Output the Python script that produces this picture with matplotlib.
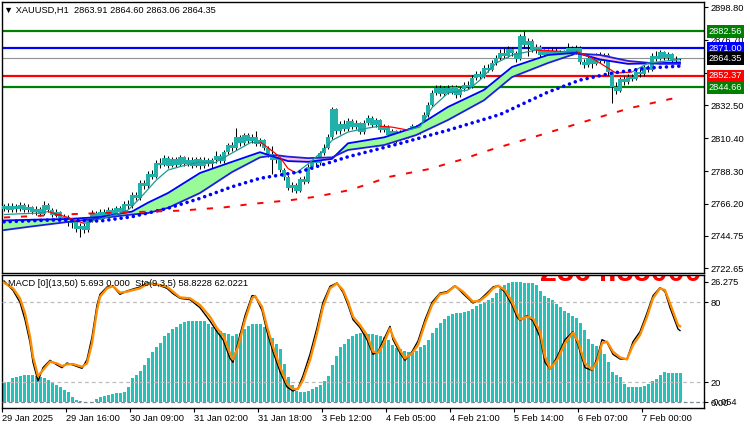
import numpy as np
import matplotlib
matplotlib.use('Agg')
import matplotlib.pyplot as plt
from matplotlib.collections import LineCollection

plt.rcParams['font.family'] = ['Liberation Sans', 'DejaVu Sans']

# ---------------- data ----------------
open_first = 2763.0
closes = [
2764.5, 2762.0, 2765.0, 2762.5, 2765.5, 2762.0, 2764.0, 2761.0, 2763.0, 2759.5,
2765.5, 2762.0, 2759.0, 2760.5, 2756.5,
2757.5, 2753.0, 2755.0, 2749.0, 2751.5, 2748.5, 2755.0,
2760.0, 2757.0, 2761.0, 2758.0, 2762.0, 2759.5, 2763.5, 2761.0,
2766.0, 2764.5, 2772.0, 2770.0, 2780.0, 2778.0, 2786.0, 2784.5, 2794.0, 2792.5,
2797.0, 2792.0, 2796.5, 2792.5, 2797.5, 2793.0, 2796.0, 2792.0, 2796.5, 2791.5, 2796.0, 2793.0, 2795.5,
2798.5, 2795.0, 2801.0, 2806.0, 2803.5, 2811.0, 2807.0, 2812.5,
2808.5, 2811.0, 2806.5, 2809.0, 2804.0,
2799.5, 2796.0, 2798.0, 2789.0, 2784.0, 2777.0, 2779.0, 2775.0,
2783.0, 2781.0, 2791.0, 2795.5, 2793.5, 2800.5, 2804.0, 2811.0,
2830.0, 2815.0,
2820.0, 2816.5, 2822.0, 2818.0, 2820.5, 2814.5, 2821.0, 2824.0, 2819.5, 2822.5,
2816.0, 2818.0, 2812.5, 2815.0, 2810.5, 2814.5, 2811.5, 2815.5, 2818.5, 2814.5, 2819.0,
2826.0, 2833.0,
2841.0, 2844.5, 2840.5, 2844.0, 2841.0, 2845.0, 2839.5, 2843.5,
2846.5, 2845.0, 2851.0, 2853.5, 2852.0, 2858.0, 2856.5, 2861.0, 2864.5, 2868.0,
2866.0, 2870.5, 2867.5, 2864.0,
2879.0, 2873.0,
2876.0, 2870.0, 2872.0,
2866.5, 2869.0, 2865.5, 2869.5, 2866.0, 2868.5,
2866.5, 2871.0, 2868.0, 2871.5,
2862.0, 2860.0,
2864.5, 2860.5, 2866.0, 2862.5, 2866.5,
2855.0, 2845.0, 2842.5,
2850.0, 2848.0, 2852.0,
2850.5, 2855.0, 2853.5, 2858.5, 2856.5,
2866.0, 2864.0, 2868.5,
2864.5, 2867.0, 2863.0, 2863.91, 2864.35]
highs = [
2766.0, 2766.5, 2767.0, 2766.0, 2767.5, 2766.5, 2766.0, 2765.0, 2764.5, 2764.0,
2768.0, 2767.0, 2763.5, 2762.5, 2761.5,
2759.5, 2758.5, 2756.5, 2756.0, 2753.0, 2753.0, 2756.5,
2762.0, 2761.5, 2762.5, 2762.5, 2764.0, 2763.5, 2765.0, 2765.0,
2768.0, 2768.5, 2774.0, 2774.5, 2782.0, 2782.5, 2788.0, 2789.0, 2796.0, 2797.0,
2799.0, 2798.5, 2798.0, 2798.0, 2799.0, 2798.5, 2797.5, 2797.5, 2798.0, 2797.5, 2797.5, 2797.0, 2797.0,
2801.5, 2800.0, 2802.5, 2807.5, 2808.0, 2817.0, 2812.5, 2814.0,
2814.0, 2813.0, 2815.0, 2810.5, 2810.0,
2805.5, 2805.0, 2800.0, 2799.0, 2790.5, 2785.5, 2781.0, 2780.5,
2784.5, 2785.0, 2793.0, 2797.5, 2797.0, 2802.0, 2806.5, 2813.0,
2831.5, 2831.0,
2822.0, 2822.5, 2824.0, 2823.5, 2822.5, 2821.5, 2822.5, 2826.0, 2825.5, 2824.0,
2823.5, 2820.0, 2819.0, 2816.5, 2816.0, 2816.0, 2815.5, 2817.0, 2820.0, 2819.5, 2820.5,
2828.0, 2835.0,
2843.0, 2846.5, 2846.0, 2845.5, 2846.5, 2846.5, 2846.0, 2845.0,
2848.0, 2849.0, 2853.0, 2855.5, 2856.0, 2860.0, 2860.5, 2863.0, 2866.5, 2870.5,
2871.0, 2872.5, 2872.0, 2869.0,
2880.5, 2882.56,
2878.0, 2877.0, 2874.0,
2873.0, 2870.5, 2870.5, 2871.5, 2871.0, 2870.0,
2870.0, 2874.6, 2872.5, 2873.0,
2872.5, 2864.0,
2866.0, 2866.0, 2867.5, 2868.5, 2868.0,
2867.5, 2856.0, 2848.0,
2851.5, 2852.5, 2853.5,
2854.0, 2856.5, 2857.0, 2860.0, 2860.0,
2868.0, 2869.5, 2870.0,
2869.5, 2868.5, 2868.0, 2866.0, 2864.60]
lows = [
2761.5, 2761.0, 2761.0, 2761.0, 2761.5, 2760.5, 2760.5, 2759.5, 2759.0, 2758.0,
2758.5, 2760.5, 2757.5, 2757.0, 2755.0,
2754.5, 2751.5, 2750.0, 2747.0, 2743.8, 2746.5, 2747.5,
2754.0, 2755.5, 2756.0, 2756.5, 2757.0, 2758.0, 2758.5, 2759.5,
2760.0, 2763.0, 2763.5, 2768.5, 2769.0, 2776.0, 2777.0, 2783.0, 2783.5, 2790.5,
2791.5, 2790.5, 2791.0, 2791.0, 2791.5, 2791.5, 2791.5, 2790.5, 2791.0, 2790.0, 2790.5, 2791.5, 2790.5,
2794.0, 2793.5, 2794.0, 2800.0, 2802.0, 2802.5, 2805.5, 2806.0,
2807.0, 2807.0, 2805.0, 2805.0, 2802.5,
2798.0, 2786.0, 2794.0, 2787.5, 2782.0, 2775.5, 2774.0, 2773.5,
2774.0, 2779.5, 2780.0, 2789.5, 2792.0, 2792.5, 2799.0, 2803.0,
2810.0, 2813.5,
2813.5, 2815.0, 2815.5, 2816.5, 2816.5, 2813.0, 2813.5, 2819.5, 2818.0, 2818.0,
2814.5, 2814.5, 2811.0, 2810.5, 2807.0, 2809.5, 2810.0, 2810.5, 2814.0, 2813.0, 2813.5,
2818.0, 2825.0,
2832.0, 2839.5, 2839.0, 2839.0, 2840.0, 2840.0, 2837.5, 2838.5,
2842.0, 2843.5, 2844.0, 2849.5, 2850.5, 2851.0, 2855.0, 2855.5, 2859.5, 2863.0,
2864.5, 2865.0, 2866.0, 2862.0,
2863.0, 2871.0,
2866.0, 2868.5, 2868.0,
2865.0, 2864.5, 2864.0, 2864.5, 2864.5, 2864.5,
2865.0, 2865.5, 2866.5, 2867.0,
2860.5, 2857.5,
2858.5, 2858.0, 2859.5, 2861.0, 2861.0,
2853.0, 2834.0, 2840.0,
2841.5, 2846.5, 2847.0,
2849.0, 2849.5, 2852.0, 2852.5, 2855.0,
2855.5, 2862.5, 2863.0,
2863.0, 2863.0, 2861.5, 2862.0, 2863.06]

# indicator lines read at knot bars
band_x = [0, 7, 16, 24, 32, 36, 41, 49, 57, 64, 68, 71, 76, 82, 86, 95, 103, 111, 120, 127, 136, 143, 149, 156, 164, 169]
band_a = [2755, 2755.5, 2756, 2757.3, 2761, 2767, 2773.5, 2787, 2794.5, 2801, 2797.5, 2795, 2794.5, 2796.5, 2807, 2811,
          2818, 2831.5, 2843, 2858.4, 2866.5, 2868, 2863.5, 2860.5, 2861, 2861.5]
band_b = [2748.5, 2751, 2754, 2756.5, 2759, 2760, 2763.5, 2773.5, 2787.6, 2797.5, 2799, 2798, 2797, 2797.5, 2802.5, 2805.8,
          2812.5, 2822.7, 2836, 2851.6, 2861.1, 2867.5, 2866.5, 2862.5, 2860.5, 2860.5]
fast_x = [0, 4, 9, 11, 16, 20, 24, 28, 31, 34, 38, 41, 45, 49, 53, 57, 62, 64, 66, 69, 71, 73, 76, 80, 82, 86, 91, 94,
          97, 101, 104, 107, 111, 116, 119, 123, 127, 133, 139, 143, 147, 151, 153, 157, 161, 164, 169]
fast_v = [2759, 2759.5, 2760, 2761, 2757, 2753, 2756, 2759, 2762, 2770, 2782, 2789, 2792, 2794.4, 2794.4, 2800.4, 2808,
          2808, 2804, 2797.7, 2790, 2787, 2793, 2802.5, 2809, 2814.6, 2817.3, 2818.5, 2817.9, 2815.9, 2818, 2831, 2840.9,
          2842.9, 2849.6, 2861, 2866.5, 2869.8, 2869, 2869, 2864.4, 2857.7, 2854.3, 2855, 2861, 2862, 2863.4]
fast_red_spans = [(11, 20), (64, 73), (94, 101), (133, 139), (143, 157)]
dot_x = [0, 12, 24, 32, 41, 49, 57, 64, 74, 86, 99, 111, 124, 136, 144, 152, 161, 169]
dot_v = [2754.1, 2755.3, 2754.6, 2757.5, 2763.2, 2769.9, 2777.7, 2783.4, 2787.8, 2797.9, 2806.9, 2815.8, 2826.4,
         2841.5, 2849.6, 2854.3, 2857.7, 2859.0]
ma200_x = [0, 19, 44, 55, 61.5, 72, 78, 86.5, 96.5, 106, 114, 121.5, 134, 146.5, 156.5, 166.5, 169]
ma200_v = [2757.0, 2759.5, 2761.6, 2763.8, 2766.0, 2768.8, 2771.0, 2775.5, 2784.5, 2789.5, 2795.7, 2802.5, 2812.5,
           2822.7, 2830.7, 2836.8, 2838.0]

levels = [2882.56, 2871.00, 2864.35, 2852.37, 2844.66]
level_colors = ['#008000', '#0000FF', '#000000', '#FF0000', '#008000']
price_ticks = [2898.80, 2876.70, 2854.60, 2832.50, 2810.40, 2788.30, 2766.20, 2744.75, 2722.65]

macd_hist = [4.3, 4.5, 5.3, 5.6, 5.8, 5.9, 5.9, 5.9, 5.7, 5.5, 5.4, 4.9, 4.3, 3.8, 3.4, 2.8, 2.3, 1.3, 0.6, 0.3,
             0.05, 0.02, 0.05, 0.8, 1.1, 1.4, 1.6, 1.8, 2.0, 2.1, 2.3, 3.3, 5.3, 6.0, 6.9, 8.2, 9.6, 10.9, 12.0, 13.0,
             14.4, 15.2, 15.9, 16.5, 17.0, 17.5, 17.8, 17.8, 17.8, 17.8, 17.7, 17.0, 16.4, 15.9, 15.5, 15.2, 14.8,
             14.5, 14.8, 15.2, 16.0, 16.7, 17.0, 17.1, 17.0, 16.4, 15.6, 14.1, 12.8, 11.6, 8.3, 5.5, 3.8, 2.6, 2.2,
             2.2, 2.5, 2.9, 3.3, 3.9, 4.6, 5.7, 8.2, 10.2, 12.0, 12.8, 13.7, 14.4, 14.9, 15.2, 15.0, 14.9, 14.8, 14.7,
             14.5, 14.3, 13.6, 12.6, 11.9, 11.6, 11.3, 11.0, 10.8, 11.3, 12.0, 12.6, 13.5, 15.0, 16.2, 17.2, 18.2,
             18.9, 19.3, 19.5, 19.5, 19.6, 19.8, 20.3, 20.9, 21.5, 21.9, 22.3, 22.7, 23.8, 24.7, 25.5, 26.0, 26.2,
             26.2, 26.275, 25.9, 26.0, 25.9, 25.6, 24.3, 23.2, 22.7, 22.2, 21.5, 20.8, 20.0, 19.4, 18.9, 18.3, 17.2,
             15.7, 13.9, 12.8, 12.2, 11.7, 10.6, 8.8, 6.6, 6.0, 5.5, 4.1, 3.4, 3.3, 3.3, 3.3, 3.6, 4.1, 4.6, 5.1, 6.0,
             6.6, 6.5, 6.5, 6.4, 6.4]
stoch_x = [0, 2.25, 4, 5.25, 6.5, 7.25, 8.5, 9.75, 11.5, 13.25, 14.5, 15.75, 17.25, 19.5, 20.75, 22, 23.25, 24, 25.75,
           27.25, 29, 30.75, 32.25, 34, 35.75, 37.25, 39, 40.75, 42.25, 44, 46.5, 49, 51.5, 53.25, 54.75, 56.5, 57.25,
           58.5, 60.25, 62, 62.75, 64.5, 65.75, 67.25, 69, 70.75, 72.25, 73.5, 74.75, 76.5, 78.25, 79.75, 81.5, 83.25,
           84.75, 86, 87.25, 89, 90.75, 92.25, 93.5, 94.75, 96.5, 97.25, 99, 100.25, 102, 103.5, 105.25, 107, 109,
           110.75, 112.75, 114.75, 117.25, 119, 120.75, 122.25, 123.5, 125.25, 127, 128.25, 129, 130.75, 132.25, 134,
           135.25, 136.5, 138.25, 140.25, 142.25, 143.5, 145.25, 147, 148.25, 149.5, 150.75, 152.25, 154, 155.75,
           157.25, 159, 160.75, 162.25, 164, 165.25, 166.5, 168.5, 169]
stoch_d = [94.7, 90.5, 83, 71.8, 54.3, 39.2, 24.7, 29.2, 35.5, 34.2, 32.2, 33.5, 33.7, 31.7, 34.2, 49.3, 74.2, 84.2,
           90.5, 92.2, 87.2, 88, 89.2, 90.5, 93.7, 93.7, 93, 91.7, 88, 83.7, 83, 78, 69.2, 60.5, 55.5, 41.7, 37.2, 46.7,
           66.7, 83, 84.7, 76.7, 61.7, 46.7, 31.7, 19.2, 15, 15, 21.7, 36.7, 56.7, 76.7, 90.5, 94.2, 89.2, 80.5, 69.2,
           63, 55.5, 43, 42.2, 48, 60.5, 54.3, 44.2, 38, 41.7, 48, 64.2, 78, 86.2, 87.2, 92.2, 88, 80.5, 81.2, 85.5,
           90.5, 92.5, 89.2, 80.5, 71.8, 67.2, 69.2, 68, 58, 39.2, 30.5, 36.7, 49.3, 57.2, 50.5, 34.2, 29.7, 35.5,
           49.3, 50.5, 43, 38.7, 37.2, 48, 55.5, 69.2, 83, 90.5, 89.2, 79.2, 63, 62.02]
stoch_k = [96, 89, 80, 67, 50, 35, 21, 31, 36.5, 33, 31, 34.5, 33, 30.5, 37, 54, 78, 86, 91.5, 92, 86, 88.5, 90, 91.5,
           94.5, 94, 92.5, 90.5, 86.5, 83, 82, 76, 66, 58, 52, 38, 35, 50, 70, 85, 85, 74, 58, 43, 28, 16.5, 13.5,
           15.5, 25, 41, 61, 80, 92, 94.5, 87.5, 78, 67, 61, 52, 41, 43, 51, 62, 52, 42, 36.5, 43, 51, 67, 80, 87, 88,
           92.5, 86.5, 79.5, 82, 87, 91.5, 92.5, 87.5, 78, 69, 66.5, 70, 66, 54, 35, 30, 39, 52, 58, 48, 31, 29, 38,
           52, 50, 41, 37.5, 37.5, 50.5, 58, 72, 85, 91, 88, 76, 60, 58.82]

date_ticks = [0, 16, 32, 48, 64, 80, 96, 112, 128, 144, 160]
date_labels = ['29 Jan 2025', '29 Jan 16:00', '30 Jan 09:00', '31 Jan 02:00', '31 Jan 18:00', '3 Feb 12:00',
               '4 Feb 05:00', '4 Feb 21:00', '5 Feb 14:00', '6 Feb 07:00', '7 Feb 00:00']

title = '\u25BC XAUUSD,H1  2863.91 2864.60 2863.06 2864.35'
sub_title = 'MACD [0](13,50) 5.693 0.000  Sto(9,3,5) 58.8228 62.0221'
big_label = '2864.35000'

# ---------------- figure ----------------
W, H = 750, 430
FS = 6.7
fig = plt.figure(figsize=(W / 100, H / 100), dpi=100)
ax = fig.add_axes([2 / W, 1 - 273 / H, 702 / W, 271 / H])
axm = fig.add_axes([2 / W, 1 - 408 / H, 702 / W, 133 / H])

n = len(closes)
xs = np.arange(n)
c = np.array(closes)
o = np.array([open_first] + closes[:-1])
hi = np.maximum(np.array(highs), np.maximum(o, c))
lo = np.minimum(np.array(lows), np.minimum(o, c))

ax.set_xlim(-0.5, 175)
ax.set_ylim(2719.6, 2902.2)

# horizontal levels
for lv, col in zip(levels, level_colors):
    if col == '#000000':
        ax.axhline(lv, color='#909090', lw=0.8, zorder=2)
    else:
        ax.axhline(lv, color=col, lw=1.6, zorder=2)

# candles
ax.vlines(xs, lo, hi, color='black', lw=0.75, zorder=3)
ax.bar(xs, np.maximum(np.abs(c - o), 0.35), bottom=np.minimum(o, c), width=0.78,
       color='#20B2AA', edgecolor='none', zorder=4)

# MA band
bx = np.array(band_x, float)
ba = np.array(band_a)
bb = np.array(band_b)
ax.fill_between(bx, ba, bb, where=ba >= bb, interpolate=True, color='#98FB98', lw=0, zorder=5)
ax.fill_between(bx, ba, bb, where=ba < bb, interpolate=True, color='#FFC0CB', lw=0, zorder=5)
ax.plot(bx, ba, color='#0000FF', lw=1.3, zorder=6)
ax.plot(bx, bb, color='#1E1EE0', lw=1.3, zorder=6)

# fast line with red falling spans
segs, cols = [], []
for i in range(len(fast_x) - 1):
    a0, a1 = fast_x[i], fast_x[i + 1]
    segs.append([(a0, fast_v[i]), (a1, fast_v[i + 1])])
    red = any(s <= a0 and a1 <= e for s, e in fast_red_spans)
    cols.append('#FF0000' if red else '#1A9A90')
ax.add_collection(LineCollection(segs, colors=cols, linewidths=0.9, zorder=7))

# blue dotted and red dashed
ax.plot(dot_x, dot_v, color='#0000FF', lw=2.6, ls=(0, (0.01, 1.7)), dash_capstyle='round', zorder=7)
ax.plot(ma200_x, ma200_v, color='#FF0000', lw=1.4, ls=(0, (3.2, 5.5)), zorder=7)

# axes styling main
ax.set_xticks([])
ax.yaxis.tick_right()
ax.set_yticks(price_ticks)
ax.set_yticklabels([f'{p:.2f}' for p in price_ticks])
ax.tick_params(axis='y', direction='out', length=3, width=0.8, pad=2, labelsize=FS, colors='black')
for sp in ax.spines.values():
    sp.set_linewidth(1.0)

# price level boxes
for lv, col in zip(levels, level_colors):
    ax.annotate(f'{lv:.2f}', xy=(1.0, lv), xycoords=('axes fraction', 'data'),
                xytext=(3.5, 0), textcoords='offset points', ha='left', va='center',
                fontsize=FS, color='white', annotation_clip=False, zorder=20,
                bbox=dict(boxstyle='square,pad=0.2', fc=col, ec='none'))

# ---------------- MACD / stochastic ----------------
axm.set_xlim(-0.5, 175)
axm.set_ylim(-1.2, 27.72)
axm.bar(xs, macd_hist, width=0.75, color='#26C2B9', edgecolor='none', zorder=2)
axm.axhline(0, color='#7A8694', lw=0.9, ls=(0, (3, 2)), zorder=3)
axm.text(134, 0.955, big_label, transform=axm.get_xaxis_transform(), color='#FF0000',
         fontsize=22, fontweight='bold', va='baseline', ha='left', clip_on=True, zorder=1)

axs = axm.twinx()
axs.set_ylim(0.75, 100.5)
axs.set_xlim(-0.5, 175)
for lv in (80, 20):
    axs.axhline(lv, color='#BDBDBD', lw=0.9, ls=(0, (3, 2.5)), zorder=1)
axs.plot(stoch_x, stoch_k, color='black', lw=1.0, zorder=3)
axs.plot(stoch_x, stoch_d, color='#FF8C00', lw=1.7, zorder=4)
axs.set_yticks([80, 20])
axs.set_yticklabels(['80', '20'])
axs.tick_params(axis='y', direction='out', length=3, width=0.8, pad=2, labelsize=FS)
for sp in axs.spines.values():
    sp.set_visible(False)

axm.yaxis.tick_right()
axm.set_yticks([26.275, 0.0])
axm.set_yticklabels(['26.275', '0.00'])
axm.tick_params(axis='y', direction='out', length=3, width=0.8, pad=2, labelsize=FS)
axm.annotate('-0.054', xy=(1.0, 0.0), xycoords=('axes fraction', 'data'), xytext=(4.5, 0),
             textcoords='offset points', ha='left', va='center', fontsize=FS, annotation_clip=False)
axm.set_xticks([t - 0.5 for t in date_ticks])
axm.set_xticklabels(date_labels)
axm.tick_params(axis='x', direction='out', length=3, width=0.8, pad=1.5, labelsize=FS)
for lab in axm.get_xticklabels():
    lab.set_ha('left')
for sp in axm.spines.values():
    sp.set_linewidth(1.0)

fig.text(4 / W, 1 - 10 / H, title, fontsize=FS, va='center', ha='left', color='black')
fig.text(8 / W, 1 - 284 / H, sub_title, fontsize=FS, va='center', ha='left', color='black', zorder=30)

fig.savefig('out.png', dpi=100)
